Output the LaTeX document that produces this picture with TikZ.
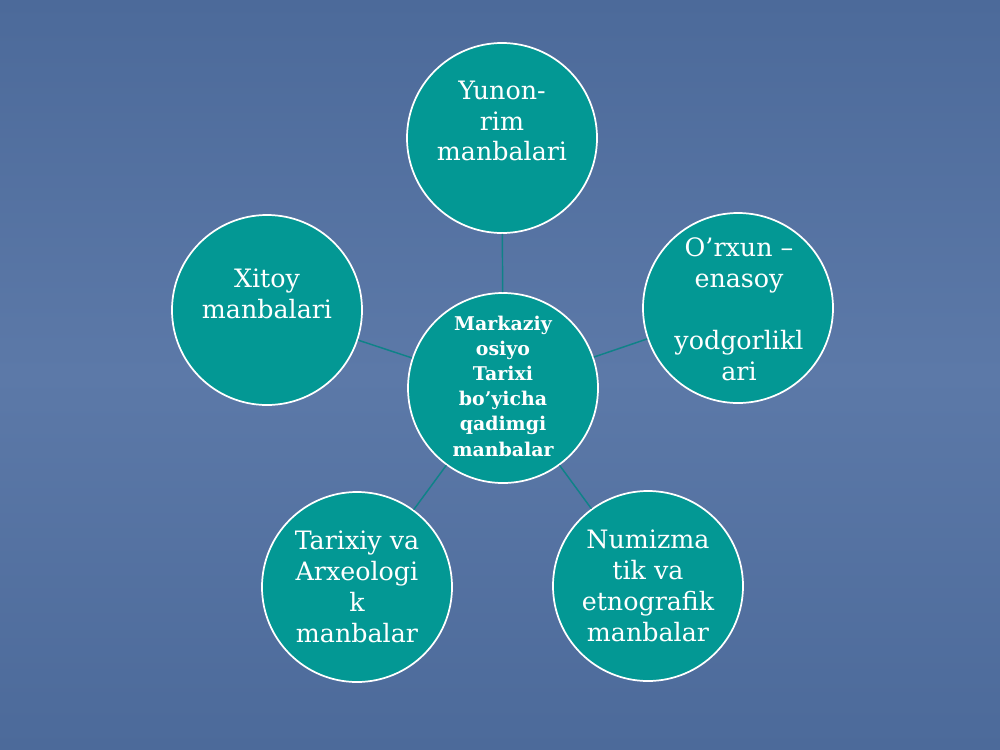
\documentclass[tikz,border=0pt]{standalone}
\usepackage{fontspec}
\setmainfont{DejaVu Serif}
\definecolor{slideblue}{HTML}{4C6A9A}
\definecolor{slidelight}{HTML}{5C79A8}
\definecolor{bubbleteal}{HTML}{039894}
\definecolor{spoketeal}{HTML}{0F8288}
\begin{document}
\begin{tikzpicture}[x=0.75pt, y=-0.75pt,
  bubble/.style={circle, draw=white, line width=1.3pt, fill=bubbleteal,
    minimum size=142.5pt, inner sep=0pt},
  bubbletext/.style={text=white, align=center, inner sep=0pt,
    font=\fontsize{19}{23.2}\selectfont},
  hubtext/.style={text=white, align=center, inner sep=0pt,
    font=\fontsize{14.2}{18.9}\selectfont\bfseries},
  spoke/.style={draw=spoketeal, line width=1.1pt}]

% slide background
\useasboundingbox (0,0) rectangle (1000,750);
\shade[top color=slideblue, bottom color=slideblue, middle color=slidelight]
  (0,0) rectangle (1000,750);

% circles
\node[bubble] (markaziy) at (503,388) {};
\node[bubble] (yunon)    at (502,138) {};
\node[bubble] (orxun)    at (738,308) {};
\node[bubble] (xitoy)    at (267,310) {};
\node[bubble] (tarixiy)  at (357,587) {};
\node[bubble] (numizma)  at (648,586) {};

% spokes
\draw[spoke] (markaziy) -- (yunon);
\draw[spoke] (markaziy) -- (orxun);
\draw[spoke] (markaziy) -- (xitoy);
\draw[spoke] (markaziy) -- (tarixiy);
\draw[spoke] (markaziy) -- (numizma);

% texts
\node[hubtext] (t-markaziy) at (503,386)
  {Markaziy\\osiyo\\Tarixi\\bo’yicha\\qadimgi\\manbalar};
\node[bubbletext] (t-yunon) at (502,121) {Yunon-\\rim\\manbalari};
\node[bubbletext] (t-orxun) at (739,309)
  {O’rxun –\\enasoy\\[23.2pt]yodgorlikl\\ari};
\node[bubbletext] (t-xitoy) at (267,294) {Xitoy\\manbalari};
\node[bubbletext] (t-tarixiy) at (357,587)
  {Tarixiy va\\Arxeologi\\k\\manbalar};
\node[bubbletext] (t-numizma) at (648,586)
  {Numizma\\tik va\\etnografik\\manbalar};

\end{tikzpicture}
\end{document}
